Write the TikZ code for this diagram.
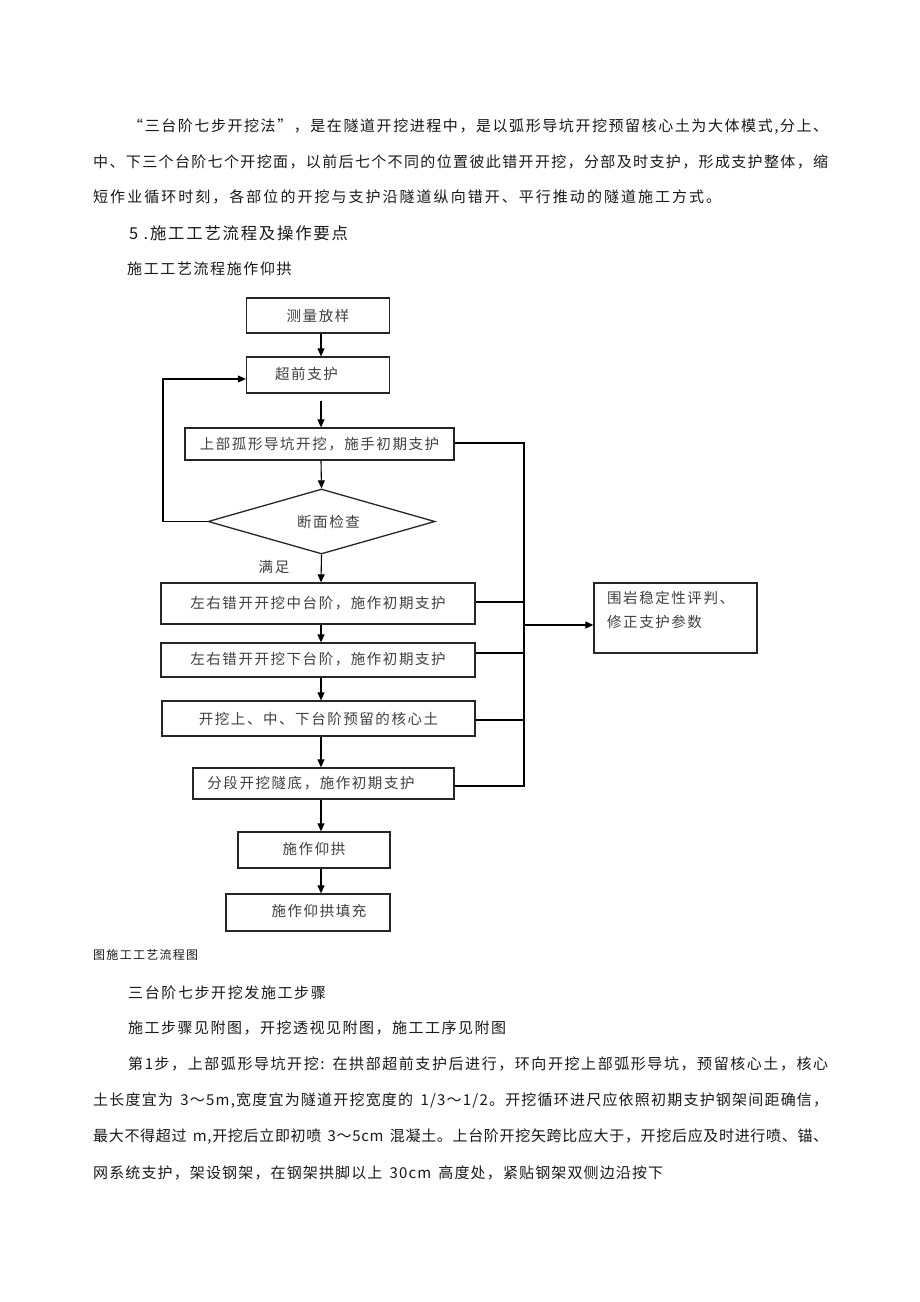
\documentclass[tikz,border=0pt]{standalone}
\usepackage{fontspec}
\newfontfamily\cjkfont[LetterSpace=10.7]{Noto Sans CJK SC}
\usetikzlibrary{arrows.meta,shapes.geometric}
\newcommand\bodyfont{\cjkfont\fontsize{15}{18}\selectfont}
\newcommand\headfont{\cjkfont\fontsize{16.4}{20}\selectfont}
\newcommand\boxfont{\cjkfont\fontsize{14.5}{24}\selectfont}
\newcommand\capfont{\cjkfont\fontsize{12}{14}\selectfont}
\makeatletter
\newcommand\spreadline[2]{\makebox[#1][s]{\@tfor\sp@c:=#2\do{\sp@c\hfil}\unskip}}
\makeatother
\begin{document}
\begin{tikzpicture}[x=1pt,y=-1pt,
  box/.style={draw=black!85, line width=1.3pt, rectangle, inner sep=0pt, font=\boxfont, text=black!75},
  conn/.style={line width=1.1pt, draw=black},
  arr/.style={conn, -{Triangle[length=8pt,width=7pt]}},
  para/.style={anchor=west, inner sep=0pt, font=\bodyfont, text=black!90}]
\fill[white] (0,0) rectangle (920,1302);
\useasboundingbox (0,0) rectangle (920,1302);

% --- paragraph 1 ---
\node[para] (p1) at (128,127) {\spreadline{700pt}{“三台阶七步开挖法”，是在隧道开挖进程中，是以弧形导坑开挖预留核心土为大体模式,分上、}};
\node[para] (p2) at (93,162) {\spreadline{735pt}{中、下三个台阶七个开挖面，以前后七个不同的位置彼此错开开挖，分部及时支护，形成支护整体，缩}};
\node[para] (p3) at (93,197) {\spreadline{628pt}{短作业循环时刻，各部位的开挖与支护沿隧道纵向错开、平行推动的隧道施工方式。}};
\node[para, font=\headfont] (p4) at (129,233) {5 .施工工艺流程及操作要点};
\node[para] (p5) at (127,269) {施工工艺流程施作仰拱};

% --- flowchart ---
\coordinate (ax) at (321,0);
\coordinate (bus) at (524,0);
\coordinate (lx) at (163,0);
\coordinate (ly) at (0,379);

\node[box, minimum width=143pt, minimum height=35pt] (b1) at (318,315.5) {测量放样};
\node[box, minimum width=143pt, minimum height=36pt] (b2) at (318,375) {\raisebox{4pt}{超前支护}\hspace*{23pt}};
\node[box, minimum width=269pt, minimum height=32pt] (b3) at (319.5,444) {上部孤形导坑开挖，施手初期支护};
\node[draw=black!85, line width=1.3pt, diamond, aspect=3.5, minimum width=227pt, minimum height=65pt, inner sep=0pt, font=\boxfont, text=black!75] (d) at (321.5,521.5) {\hspace*{14pt}断面检查};
\node[inner sep=0pt, font=\boxfont, text=black!75] (ok) at (274,567) {满足};
\node[box, minimum width=314pt, minimum height=41pt] (b4) at (318,603.5) {左右错开开挖中台阶，施作初期支护};
\node[box, minimum width=314pt, minimum height=34pt] (b5) at (318,660) {\raisebox{3pt}{左右错开开挖下台阶，施作初期支护}};
\node[box, minimum width=313pt, minimum height=35pt] (b6) at (318.5,718.5) {开挖上、中、下台阶预留的核心土};
\node[box, minimum width=261pt, minimum height=31pt] (b7) at (323.5,783.5) {分段开挖隧底，施作初期支护\hspace*{25pt}};
\node[box, minimum width=152pt, minimum height=36pt] (b8) at (314,850) {\raisebox{3pt}{施作仰拱}};
\node[box, minimum width=164pt, minimum height=37pt] (b9) at (308,912.5) {\hspace*{22pt}\raisebox{4pt}{施作仰拱填充}};
\node[box, minimum width=163pt, minimum height=70pt] (r) at (675.5,618) {};
\node[anchor=base west, inner sep=0pt, font=\boxfont, text=black!75, align=left] (rt) at (607,627.5) {围岩稳定性评判、\\修正支护参数};

% main arrows
\draw[arr] (b1.south -| ax) -- (b2.north -| ax);
\draw[arr] ([yshift=-7pt]b2.south -| ax) -- (b3.north -| ax);
\draw[arr] (b3.south -| ax) -- (d.north);
\draw[arr] (d.south) -- (b4.north -| ax);
\draw[arr] (b4.south -| ax) -- (b5.north -| ax);
\draw[arr] (b5.south -| ax) -- (b6.north -| ax);
\draw[arr] (b6.south -| ax) -- (b7.north -| ax);
\draw[arr] (b7.south -| ax) -- (b8.north -| ax);
\draw[arr] (b8.south -| ax) -- (b9.north -| ax);

% loop back
\draw[arr] (d.west) -- (d.west -| lx) |- (b2.west |- ly);

% right bus
\coordinate (y3) at (0,443);
\coordinate (y4) at (0,602);
\coordinate (y5) at (0,653);
\coordinate (y6) at (0,720);
\coordinate (y7) at (0,786);
\coordinate (ya) at (0,625);
\draw[conn] (b3.east |- y3) -- (bus |- y3) -- (bus |- y7) -- (b7.east |- y7);
\draw[conn] (b4.east |- y4) -- (bus |- y4);
\draw[conn] (b5.east |- y5) -- (bus |- y5);
\draw[conn] (b6.east |- y6) -- (bus |- y6);
\draw[arr] (bus |- ya) -- (r.west |- ya);

% caption
\node[para, font=\capfont] (cap) at (93,955) {图施工工艺流程图};

% --- paragraph 2 ---
\node[para] (q1) at (128,993) {三台阶七步开挖发施工步骤};
\node[para] (q2) at (128,1028) {\spreadline{378pt}{施工步骤见附图，开挖透视见附图，施工工序见附图}};
\node[para] (q3) at (128,1064) {\spreadline{700pt}{第1步，上部弧形导坑开挖:~在拱部超前支护后进行，环向开挖上部弧形导坑，预留核心土，核心}};
\node[para] (q4) at (93,1101) {\spreadline{735pt}{土长度宜为~3～5m,宽度宜为隧道开挖宽度的~1/3～1/2。开挖循环进尺应依照初期支护钢架间距确信，}};
\node[para] (q5) at (93,1137) {\spreadline{735pt}{最大不得超过~m,开挖后立即初喷~3～5cm~混凝土。上台阶开挖矢跨比应大于，开挖后应及时进行喷、锚、}};
\node[para] (q6) at (93,1173) {\spreadline{570pt}{网系统支护，架设钢架，在钢架拱脚以上~30cm~高度处，紧贴钢架双侧边沿按下}};
\end{tikzpicture}
\end{document}
